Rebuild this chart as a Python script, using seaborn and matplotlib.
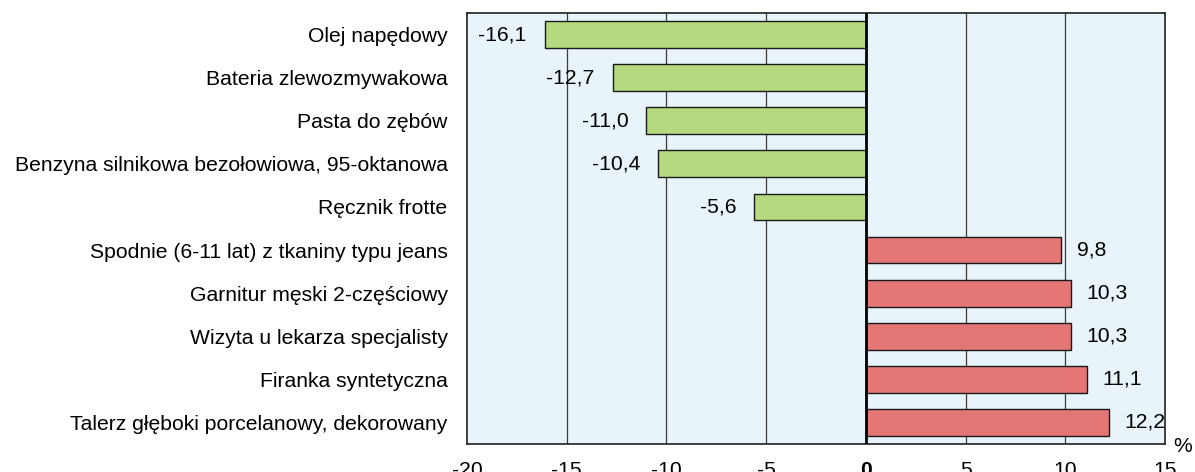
import matplotlib
matplotlib.use("Agg")
import matplotlib.pyplot as plt
import seaborn as sns
import pandas as pd

categories = [
    "Olej napędowy",
    "Bateria zlewozmywakowa",
    "Pasta do zębów",
    "Benzyna silnikowa bezołowiowa, 95-oktanowa",
    "Ręcznik frotte",
    "Spodnie (6-11 lat) z tkaniny typu jeans",
    "Garnitur męski 2-częściowy",
    "Wizyta u lekarza specjalisty",
    "Firanka syntetyczna",
    "Talerz głęboki porcelanowy, dekorowany",
]
values = [-16.1, -12.7, -11.0, -10.4, -5.6, 9.8, 10.3, 10.3, 11.1, 12.2]
tick_values = [-20, -15, -10, -5, 0, 5, 10, 15]

sns.set_theme(style="white")
plt.rcParams["font.family"] = ["Liberation Sans", "DejaVu Sans"]
plt.rcParams["text.color"] = "black"
plt.rcParams["xtick.color"] = "black"
plt.rcParams["ytick.color"] = "black"

FS = 15.2

df = pd.DataFrame({"cat": categories, "val": values})
df["sign"] = ["neg" if v < 0 else "pos" for v in values]

fig = plt.figure(figsize=(11.95, 4.72), dpi=100)
ax = fig.add_axes([0.3908, 0.0593, 0.5841, 0.9132])
ax.set_facecolor("#e8f3fa")

sns.barplot(data=df, y="cat", x="val", hue="sign", orient="h",
            palette={"neg": "#b5d97e", "pos": "#e57676"}, saturation=1,
            edgecolor="#1a1a1a", linewidth=1.0, width=0.62, dodge=False,
            legend=False, ax=ax, zorder=3)

ax.set_xlim(-20, 15)
ax.set_ylim(len(categories) - 0.5, -0.5)
ax.set_xticks(tick_values)
ax.set_xticklabels([str(t) for t in tick_values], fontsize=FS)
for lbl in ax.get_xticklabels():
    if lbl.get_text() == "0":
        lbl.set_fontweight("bold")
ax.tick_params(axis="x", length=0, pad=12)
ax.tick_params(axis="y", length=0, pad=14, labelsize=FS)
ax.set_xlabel("")
ax.set_ylabel("")

for t in [-15, -10, -5, 5, 10]:
    ax.axvline(t, color="#3a3a3a", linewidth=0.9, zorder=1)
ax.axvline(0, color="black", linewidth=2.0, zorder=4)

for s in ax.spines.values():
    s.set_visible(True)
    s.set_color("#222222")
    s.set_linewidth(1.2)

for i, v in enumerate(values):
    txt = f"{v:.1f}".replace(".", ",")
    if v < 0:
        ax.annotate(txt, (v, i), xytext=(-13, 0), textcoords="offset points",
                    ha="right", va="center", fontsize=FS, zorder=5)
    else:
        ax.annotate(txt, (v, i), xytext=(11, 0), textcoords="offset points",
                    ha="left", va="center", fontsize=FS, zorder=5)

fig.text(1183 / 1195, 1 - 447 / 472, "%", ha="center", va="center", fontsize=FS)

fig.savefig("out.png", dpi=100)
